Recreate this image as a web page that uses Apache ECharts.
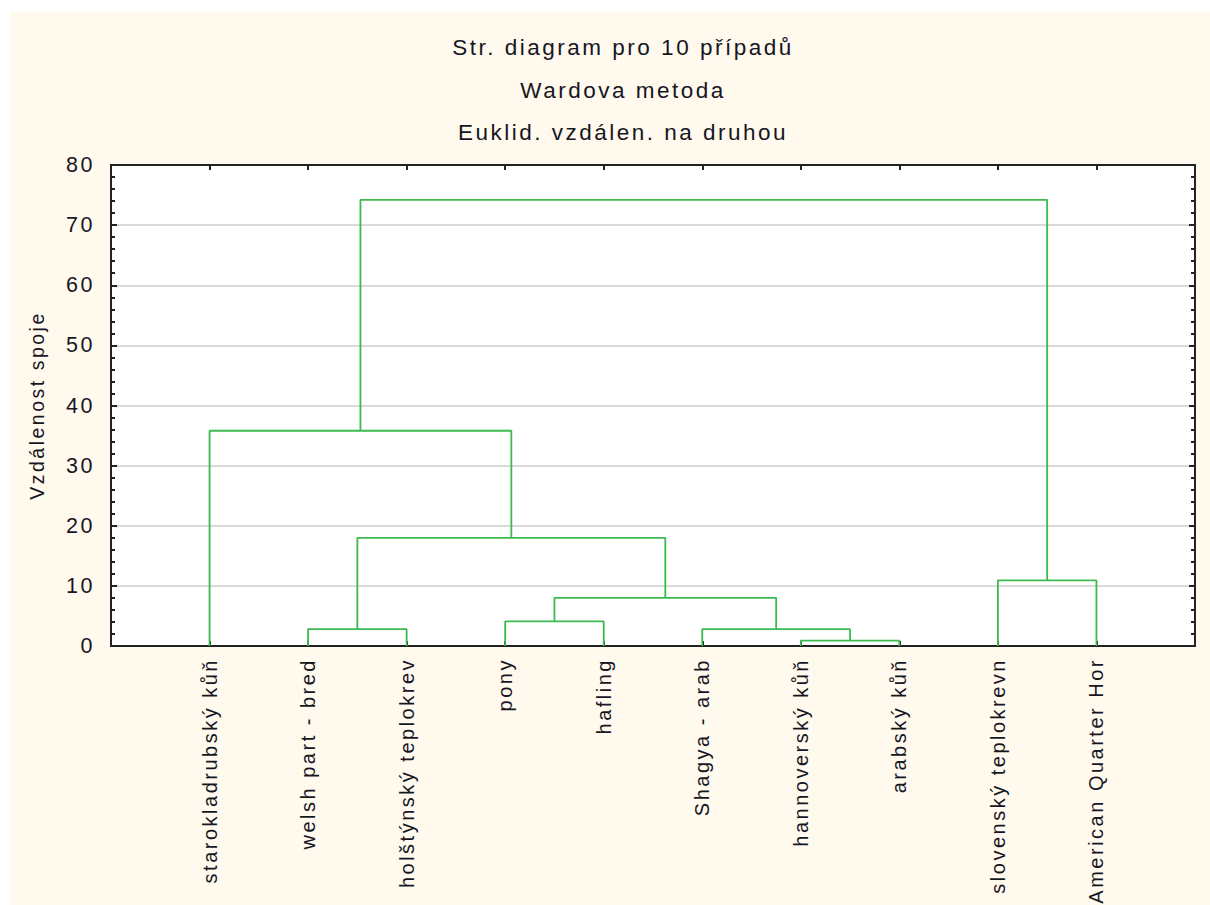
<!DOCTYPE html>
<html>
<head>
<meta charset="utf-8">
<script src="https://cdn.jsdelivr.net/npm/echarts@6/dist/echarts.min.js"></script>
<style>
  html, body { margin: 0; padding: 0; background: #ffffff; }
  #bg { position: absolute; left: 10px; top: 12px; width: 1200px; height: 893px; background: #fff9ee; }
  #chart { position: absolute; left: 0; top: 0; width: 1210px; height: 905px; letter-spacing: 2.5px; }
</style>
</head>
<body>
<div id="bg"></div>
<div id="chart"></div>
<script>
// Titles
const titleLines = ['Str. diagram pro 10 případů', 'Wardova metoda', 'Euklid. vzdálen. na druhou'];
const yAxisName = 'Vzdálenost spoje';

// Leaves (in dendrogram order, left to right)
const leafNames = [
  'starokladrubský kůň', 'welsh part - bred', 'holštýnský teplokrev', 'pony', 'hafling',
  'Shagya - arab', 'hannoverský kůň', 'arabský kůň', 'slovenský teplokrevn', 'American Quarter Hor'
];

// Merge steps: node ids 0..9 are leaves, each merge creates node 10, 11, ...
const mergeLeft   = [6, 1, 5, 3, 13, 8, 11, 0, 17];
const mergeRight  = [7, 2, 10, 4, 12, 9, 14, 16, 15];
const mergeHeight = [0.9, 2.8, 2.8, 4.1, 8.0, 10.9, 18.0, 35.8, 74.2];

// Y ticks
const yMin = 0, yMax = 80, yStep = 10;

// Build node positions from tree
const nodeX = leafNames.map((_, i) => i + 1);
const nodeH = leafNames.map(() => 0);
const series = [];
const lineColor = '#3cba50';
for (let k = 0; k < mergeLeft.length; k++) {
  const a = mergeLeft[k], b = mergeRight[k], h = mergeHeight[k];
  const xa = nodeX[a], xb = nodeX[b];
  series.push({
    type: 'line',
    data: [[xa, nodeH[a]], [xa, h], [xb, h], [xb, nodeH[b]]],
    symbol: 'none',
    silent: true,
    animation: false,
    lineStyle: { color: lineColor, width: 1.8 },
    z: 3
  });
  nodeX.push((xa + xb) / 2);
  nodeH.push(h);
}

const textColor = '#16161f';
const fontFamily = '"Liberation Sans", Arial, sans-serif';
const chart = echarts.init(document.getElementById('chart'), null, { renderer: 'svg' });

const titleTops = [31, 74, 116];
const option = {
  backgroundColor: 'transparent',
  animation: false,
  title: titleLines.map((t, i) => ({
    text: t,
    left: 618,
    textAlign: 'center',
    top: titleTops[i],
    textStyle: { fontFamily, fontSize: 22.5, fontWeight: 'normal', color: textColor }
  })),
  grid: {
    left: 111, right: 15, top: 165, bottom: 259,
    show: true, backgroundColor: '#ffffff', borderColor: '#222222', borderWidth: 2
  },
  xAxis: [
    {
      type: 'value', min: 0, max: leafNames.length + 1, interval: 1, position: 'bottom',
      axisLine: { show: true, onZero: false, lineStyle: { color: '#222222', width: 2 } },
      axisTick: { show: true, inside: true, length: 5, lineStyle: { color: '#222222', width: 2 } },
      splitLine: { show: false },
      axisLabel: {
        rotate: 90, margin: 12, fontFamily, fontSize: 20, color: textColor,
        showMinLabel: true, showMaxLabel: true,
        formatter: v => (v >= 1 && v <= leafNames.length) ? leafNames[v - 1] : ''
      }
    },
    {
      type: 'value', min: 0, max: leafNames.length + 1, interval: 1, position: 'top',
      axisLine: { show: true, onZero: false, lineStyle: { color: '#222222', width: 2 } },
      axisTick: { show: true, inside: true, length: 5, lineStyle: { color: '#222222', width: 2 } },
      splitLine: { show: false },
      axisLabel: { show: false }
    }
  ],
  yAxis: [
    {
      type: 'value', min: yMin, max: yMax, interval: yStep, position: 'left',
      name: yAxisName, nameLocation: 'middle', nameRotate: 90, nameGap: 64,
      nameTextStyle: { fontFamily, fontSize: 19.5, color: textColor },
      axisLine: { show: true, onZero: false, lineStyle: { color: '#222222', width: 2 } },
      axisTick: { show: true, inside: true, length: 6, lineStyle: { color: '#222222', width: 2 } },
      minorTick: { show: true, splitNumber: 5, length: 4, lineStyle: { color: '#222222', width: 2 } },
      splitLine: { show: true, lineStyle: { color: '#dadada', width: 2 } },
      axisLabel: { margin: 16, fontFamily, fontSize: 21.5, color: textColor }
    },
    {
      type: 'value', min: yMin, max: yMax, interval: yStep, position: 'right',
      axisLine: { show: true, onZero: false, lineStyle: { color: '#222222', width: 2 } },
      axisTick: { show: true, inside: true, length: 6, lineStyle: { color: '#222222', width: 2 } },
      minorTick: { show: true, splitNumber: 5, length: 4, lineStyle: { color: '#222222', width: 2 } },
      splitLine: { show: false },
      axisLabel: { show: false }
    }
  ],
  series: series
};
chart.setOption(option);
</script>
</body>
</html>
